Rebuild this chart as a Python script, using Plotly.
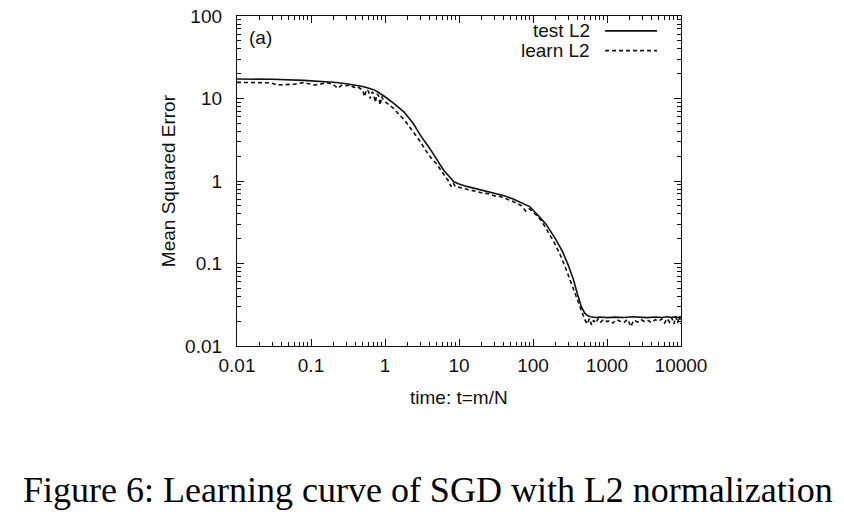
import plotly.graph_objects as go

# ---- data ----
test_t = [0.01, 0.03, 0.08, 0.15, 0.22, 0.3, 0.4, 0.5, 0.56, 0.63, 0.7, 0.8, 0.9, 1.0, 1.3,
          1.8, 2.4, 3.0, 4.0, 5.0, 6.2, 7.6, 8.5, 9.0, 10, 12.7, 18, 25, 35, 42, 55, 70, 90,
          118, 150, 200, 250, 300, 350, 400, 450, 500, 550, 600, 700, 800, 1000, 1300,
          1700, 2200, 2800, 3500, 4500, 5500, 6500, 7500, 8500, 9300, 10000]
test_v = [17.2, 17.1, 16.6, 16.1, 15.6, 15.1, 14.6, 14.0, 13.6, 13.3, 12.8, 12.0, 11.3, 10.5, 8.8,
          6.9, 5.0, 3.6, 2.5, 1.8, 1.35, 1.1, 0.98, 0.96, 0.92, 0.86, 0.8, 0.75, 0.7, 0.66, 0.6, 0.54, 0.49,
          0.38, 0.3, 0.2, 0.14, 0.095, 0.065, 0.042, 0.03, 0.025, 0.0232, 0.0226, 0.0222, 0.0225, 0.0221, 0.0224,
          0.0222, 0.0226, 0.0223, 0.0221, 0.0225, 0.0222, 0.0226, 0.0221, 0.0227, 0.0219, 0.0226]

learn_t = [0.01, 0.015, 0.02, 0.028, 0.035, 0.045, 0.06, 0.08, 0.1, 0.11, 0.13, 0.16, 0.2, 0.23,
           0.26, 0.3, 0.34, 0.38, 0.42, 0.46, 0.5, 0.53, 0.56, 0.6, 0.63, 0.67, 0.7, 0.74, 0.78,
           0.82, 0.86, 0.9, 0.95, 1.0, 1.1, 1.3, 1.5, 1.8, 2.2, 2.6, 3.0, 3.6, 4.2, 5.0, 5.8, 6.6,
           7.2, 7.8, 8.3, 9.0, 10, 11, 13, 16, 20, 25, 30, 36, 42, 50, 60, 70, 80, 90, 100, 110,
           130, 150, 175, 200, 240, 280, 320, 370, 420, 460, 500, 540, 580, 620, 660, 700, 760,
           820, 900, 1000, 1100, 1200, 1350, 1500, 1700, 1900, 2100, 2300, 2600, 2900, 3200,
           3600, 4000, 4500, 5000, 5500, 6000, 6500, 7000, 7500, 8000, 8500, 9000, 9500, 10000]
learn_v = [15.7, 15.7, 15.6, 15.5, 14.6, 14.8, 14.9, 15.6, 15.0, 14.6, 14.8, 15.6, 14.8, 13.3,
           14.5, 14.3, 14.6, 13.6, 14.0, 13.2, 12.6, 10.5, 12.8, 12.2, 10.0, 12.0, 11.5, 9.0, 11.4,
           10.8, 8.3, 10.6, 9.6, 9.2, 8.6, 7.6, 6.6, 5.6, 4.4, 3.6, 3.0, 2.3, 1.9, 1.6, 1.3, 1.12,
           1.0, 0.86, 0.95, 0.85, 0.84, 0.82, 0.8, 0.76, 0.72, 0.7, 0.66, 0.65, 0.61, 0.58, 0.54, 0.5, 0.43, 0.46, 0.42, 0.39,
           0.33, 0.27, 0.21, 0.17, 0.12, 0.085, 0.062, 0.043, 0.031, 0.025, 0.021, 0.0185, 0.0215, 0.018, 0.0205, 0.019, 0.0215,
           0.0195, 0.021, 0.0198, 0.0203, 0.019, 0.0208, 0.02, 0.0193, 0.021, 0.0172, 0.0205, 0.0195, 0.0208, 0.0198,
           0.0203, 0.0192, 0.0208, 0.02, 0.0213, 0.019, 0.0215, 0.0195, 0.022, 0.0185, 0.0225, 0.019, 0.023, 0.0185]

x_tickvals = [0.01, 0.1, 1, 10, 100, 1000, 10000]
x_ticktext = ["0.01", "0.1", "1", "10", "100", "1000", "10000"]
y_tickvals = [0.01, 0.1, 1, 10, 100]
y_ticktext = ["0.01", "0.1", "1", "10", "100"]

series_names = ["test L2", "learn L2"]

SANS = "Liberation Sans, Arial, sans-serif"
FS = 19
INK = "#111111"

fig = go.Figure()
fig.add_trace(go.Scatter(x=test_t, y=test_v, mode="lines", name=series_names[0],
                         line=dict(color=INK, width=1.6), showlegend=False))
fig.add_trace(go.Scatter(x=learn_t, y=learn_v, mode="lines", name=series_names[1],
                         line=dict(color=INK, width=1.6, dash="4px,3px"), showlegend=False))

axis_common = dict(
    type="log", showgrid=False, zeroline=False,
    showline=True, linecolor=INK, linewidth=1.3, mirror="allticks",
    ticks="inside", ticklen=7, tickwidth=1, tickcolor=INK,
    minor=dict(ticks="inside", ticklen=4, tickwidth=1, tickcolor=INK, dtick="D1", showgrid=False),
    tickfont=dict(family=SANS, size=FS, color=INK),
    ticklabeloverflow="allow",
)

fig.update_xaxes(range=[-2, 4], tickvals=x_tickvals, ticktext=x_ticktext,
                 ticklabelstandoff=2, **axis_common)
fig.update_yaxes(range=[-2, 2], tickvals=y_tickvals, ticktext=y_ticktext,
                 ticklabelstandoff=10, **axis_common)

ann = []
# axis titles
ann.append(dict(text="time: t=m/N", xref="paper", yref="paper", x=0.5, y=-0.155,
                showarrow=False, xanchor="center", yanchor="middle",
                font=dict(family=SANS, size=FS, color=INK)))
ann.append(dict(text="Mean Squared Error", xref="paper", yref="paper", x=-0.155, y=0.5,
                showarrow=False, xanchor="center", yanchor="middle", textangle=-90,
                font=dict(family=SANS, size=FS, color=INK)))
# panel label
ann.append(dict(text="(a)", xref="paper", yref="paper", x=0.022, y=0.936,
                showarrow=False, xanchor="left", yanchor="middle",
                font=dict(family=SANS, size=FS, color=INK)))
# key (gnuplot style: text left, sample right)
key_y = [0.955, 0.895]
for name, yy in zip(series_names, key_y):
    ann.append(dict(text=name, xref="paper", yref="paper", x=0.80, y=yy,
                    showarrow=False, xanchor="right", yanchor="middle",
                    font=dict(family=SANS, size=FS, color=INK)))
# caption
ann.append(dict(text="Figure 6: Learning curve of SGD with L2 normalization",
                xref="paper", yref="paper", x=0.431, y=-0.436,
                showarrow=False, xanchor="center", yanchor="middle",
                font=dict(family="Liberation Serif, Times New Roman, serif", size=36, color="#000")))

shapes = [
    dict(type="line", xref="paper", yref="paper", x0=0.829, x1=0.946, y0=key_y[0], y1=key_y[0],
         line=dict(color=INK, width=1.6)),
    dict(type="line", xref="paper", yref="paper", x0=0.829, x1=0.946, y0=key_y[1], y1=key_y[1],
         line=dict(color=INK, width=1.6, dash="4px,3px")),
]

fig.update_layout(
    width=844, height=521,
    margin=dict(l=237, r=163, t=16, b=175, autoexpand=False),
    paper_bgcolor="white", plot_bgcolor="white",
    annotations=ann, shapes=shapes,
)

fig.write_html("out.html", config={"displayModeBar": False},
               post_script="document.body.style.margin='0';")
